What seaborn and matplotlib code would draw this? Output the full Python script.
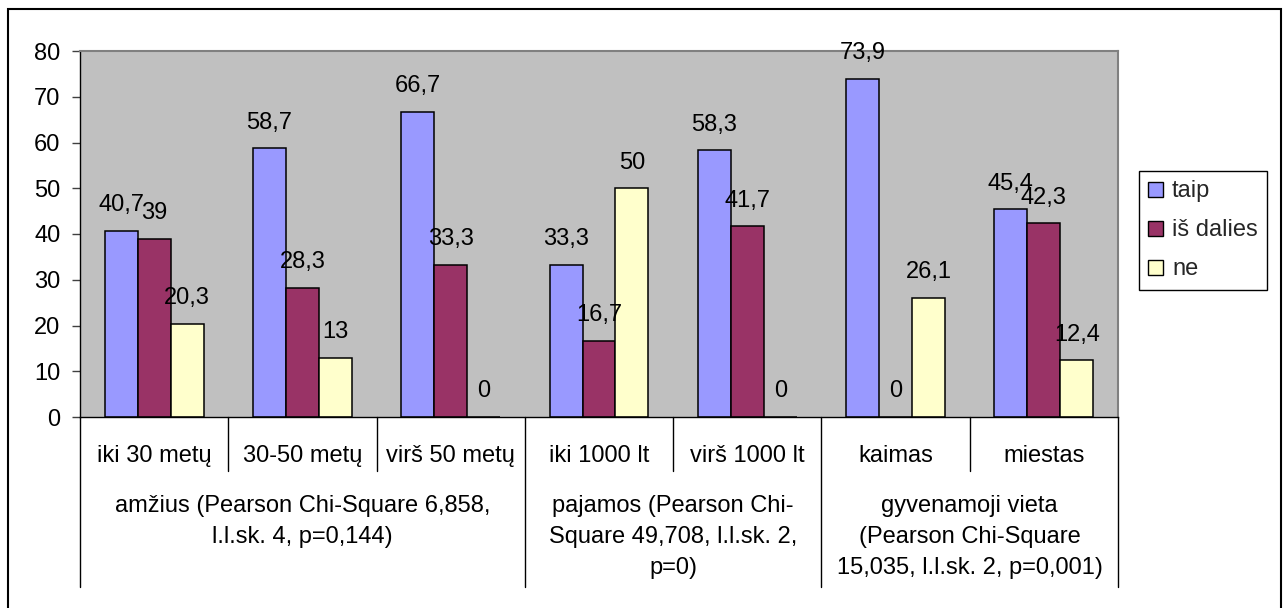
import matplotlib
matplotlib.use("Agg")
import matplotlib.pyplot as plt
from matplotlib.patches import Rectangle
import pandas as pd
import seaborn as sns

# Survey answers (%) by respondent group
subcategories = ["iki 30 metų", "30-50 metų", "virš 50 metų",
                 "iki 1000 lt", "virš 1000 lt", "kaimas", "miestas"]
group_labels = [
    "amžius (Pearson Chi-Square 6,858,\nl.l.sk. 4, p=0,144)",
    "pajamos (Pearson Chi-\nSquare 49,708, l.l.sk. 2,\np=0)",
    "gyvenamoji vieta\n(Pearson Chi-Square\n15,035, l.l.sk. 2, p=0,001)",
]
group_sizes = [3, 2, 2]
series = ["taip", "iš dalies", "ne"]
taip = [40.7, 58.7, 66.7, 33.3, 58.3, 73.9, 45.4]
is_dalies = [39, 28.3, 33.3, 16.7, 41.7, 0, 42.3]
ne = [20.3, 13, 0, 50, 0, 26.1, 12.4]
colors = ["#9999FF", "#993366", "#FFFFCC"]
y_ticks = [0, 10, 20, 30, 40, 50, 60, 70, 80]

rows = []
for name, vals in zip(series, [taip, is_dalies, ne]):
    for cat, v in zip(subcategories, vals):
        rows.append({"kategorija": cat, "atsakymas": name, "procentai": v})
df = pd.DataFrame(rows)

sns.set_theme(style="white")
plt.rcParams["font.family"] = ["Liberation Sans", "DejaVu Sans"]
FS = 17

W, H = 1285, 608
fig = plt.figure(figsize=(W / 100, H / 100), dpi=100)
ax_left, ax_right, ax_top, ax_bottom = 80, 1118, 51, 417
ax = fig.add_axes([ax_left / W, (H - ax_bottom) / H,
                   (ax_right - ax_left) / W, (ax_bottom - ax_top) / H])
ax.set_facecolor("#C0C0C0")

sns.barplot(data=df, x="kategorija", y="procentai", hue="atsakymas",
            order=subcategories, hue_order=series, palette=colors,
            saturation=1, width=2 / 3, edgecolor="black", linewidth=1.1,
            errorbar=None, ax=ax)


def fmt(v):
    return f"{v:g}".replace(".", ",")


for cont in ax.containers:
    anns = ax.bar_label(cont, labels=[fmt(v) for v in cont.datavalues],
                        padding=18.5, fontsize=FS, color="black")
    for a in anns:
        a.set_va("center")

ax.set_xlim(-0.5, len(subcategories) - 0.5)
ax.set_ylim(0, 80)
ax.set_yticks(y_ticks)
ax.set_yticklabels([str(t) for t in y_ticks], fontsize=FS)
ax.tick_params(axis="y", length=6, width=1, pad=8, color="#404040",
               left=True, labelcolor="black")
ax.set_xticks(range(len(subcategories)))
ax.set_xticklabels(subcategories, fontsize=FS)
ax.tick_params(axis="x", length=0, pad=20, labelcolor="black")
ax.set_xlabel("")
ax.set_ylabel("")

for side in ["top", "right"]:
    ax.spines[side].set_color("#808080")
    ax.spines[side].set_linewidth(1.5)
for side in ["left", "bottom"]:
    ax.spines[side].set_color("black")
    ax.spines[side].set_linewidth(1.0)

# Hierarchical category axis: separators and group captions
axh = ax_bottom - ax_top
trans = ax.get_xaxis_transform()
group_edges = [-0.5]
for n in group_sizes:
    group_edges.append(group_edges[-1] + n)
short_end = -(471 - ax_bottom) / axh
long_end = -(587 - ax_bottom) / axh
for i in range(len(subcategories) + 1):
    b = i - 0.5
    end = long_end if b in group_edges else short_end
    ax.plot([b, b], [0, end], transform=trans, clip_on=False,
            color="black", lw=1.0)

line_step = 31 / axh
first_line = -(506 - ax_bottom) / axh
for k, label in enumerate(group_labels):
    center = (group_edges[k] + group_edges[k + 1]) / 2
    for j, line in enumerate(label.split("\n")):
        ax.text(center, first_line - j * line_step, line, transform=trans,
                ha="center", va="center", fontsize=FS, color="black")

# Legend
handles, labels = ax.get_legend_handles_labels()
if ax.get_legend() is not None:
    ax.get_legend().remove()
leg = fig.legend(handles, labels, loc="upper left",
                 bbox_to_anchor=(1139 / W, (H - 171) / H),
                 bbox_transform=fig.transFigure, borderaxespad=0,
                 fontsize=FS, frameon=True, fancybox=False, shadow=False,
                 framealpha=1, edgecolor="black", handlelength=0.6,
                 handleheight=0.6, handletextpad=0.4, labelspacing=0.72,
                 borderpad=0.4)
leg.get_frame().set_linewidth(1.0)
for p in leg.get_patches():
    p.set_edgecolor("black")
    p.set_linewidth(1.0)

# Outer chart frame
fig.patches.append(Rectangle((8 / W, -0.01), (1281 - 8) / W, 1 - 9 / H + 0.01,
                             transform=fig.transFigure, fill=False,
                             edgecolor="black", lw=1.5))

fig.savefig("out.png", dpi=100)
